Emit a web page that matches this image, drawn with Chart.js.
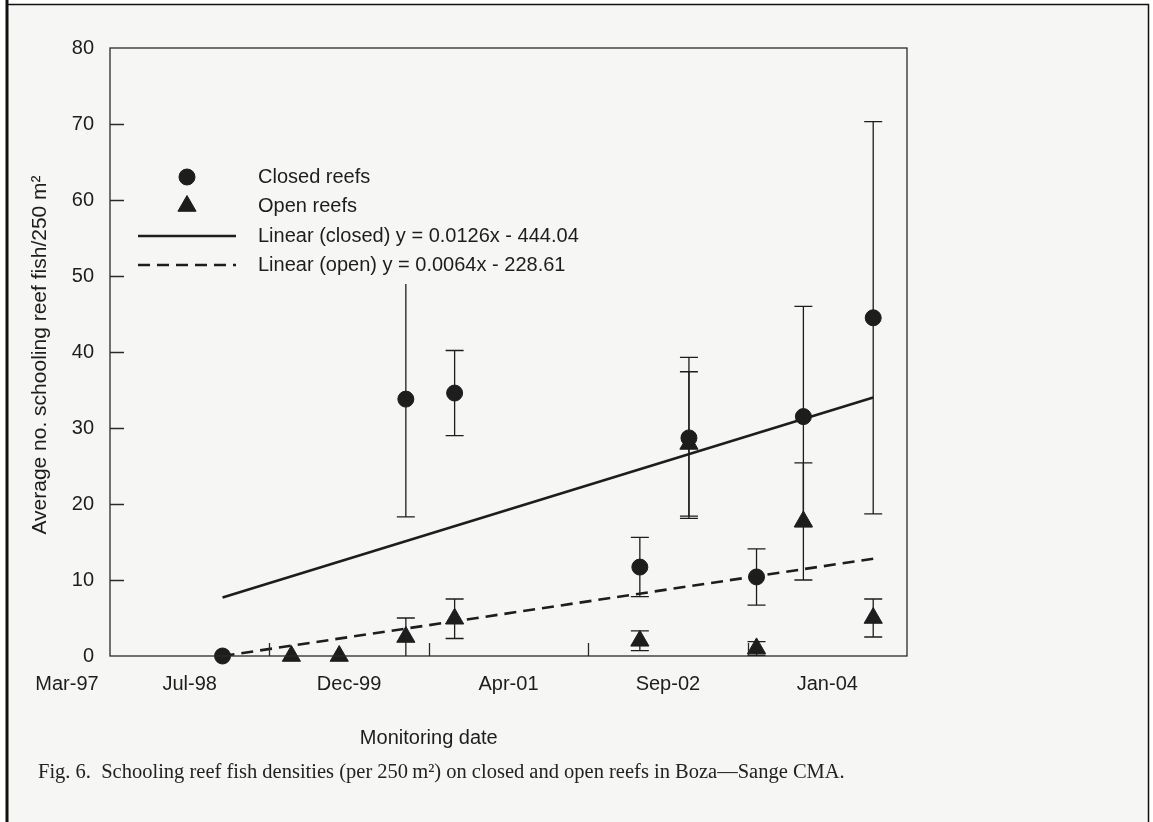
<!DOCTYPE html>
<html>
<head>
<meta charset="utf-8">
<title>Schooling reef fish densities</title>
<script src="https://cdn.jsdelivr.net/npm/chart.js@4.4.1/dist/chart.umd.min.js"></script>
<style>
  html, body { margin: 0; padding: 0; background: #fff; }
  canvas { display: block; }
</style>
</head>
<body>
<canvas id="reefChart" width="1153" height="822"></canvas>
<script>
// survey dates as Excel day serials, means and +/- error per reef type
const closedDates = [35853, 36428, 36581, 37162, 37316, 37528, 37675, 37894];
const closedMeans = [0, 33.8, 34.6, 11.7, 28.7, 10.4, 31.5, 44.5];
const closedErr = [0, 15.5, 5.6, 3.9, 10.6, 3.7, 14.5, 25.8];

const openDates = [36069, 36219, 36428, 36581, 37162, 37316, 37528, 37675, 37894];
const openMeans = [0, 0, 2.5, 4.9, 2.0, 27.9, 1.0, 17.7, 5.0];
const openErr = [0, 0, 2.5, 2.6, 1.3, 9.5, 0.9, 7.7, 2.5];

// fitted trend lines, first and last survey
const trendDates = [35853, 37894];
const closedTrend = [7.7, 34.0];
const openTrend = [0, 12.8];

const xTickValues = [35500, 36000, 36500, 37000, 37500, 38000];
const xTickLabels = ['Mar-97', 'Jul-98', 'Dec-99', 'Apr-01', 'Sep-02', 'Jan-04'];

const ink = '#1d1d1d';
const paper = '#f6f6f5';
const sans = '"Liberation Sans", Arial, sans-serif';
const serif = '"Liberation Serif", "Times New Roman", serif';

function toPoints(xs, ys) {
    return xs.map((x, i) => ({ x: x, y: ys[i] }));
}

const errorBarPlugin = {
    id: 'errorBars',
    beforeDatasetsDraw(chart) {
        const ctx = chart.ctx;
        const xs = chart.scales.x;
        const ys = chart.scales.y;
        ctx.save();
        ctx.strokeStyle = ink;
        ctx.lineWidth = 1.3;
        chart.data.datasets.forEach(ds => {
            if (!ds.errors) return;
            ds.data.forEach((p, i) => {
                const e = ds.errors[i];
                if (!e) return;
                const px = xs.getPixelForValue(p.x);
                const top = ys.getPixelForValue(p.y + e);
                const bot = ys.getPixelForValue(Math.max(0, p.y - e));
                ctx.beginPath();
                ctx.moveTo(px, top);
                ctx.lineTo(px, bot);
                ctx.moveTo(px - 9, top);
                ctx.lineTo(px + 9, top);
                if (p.y - e > 0) {
                    ctx.moveTo(px - 9, bot);
                    ctx.lineTo(px + 9, bot);
                }
                ctx.stroke();
            });
        });
        ctx.restore();
    }
};

const decorPlugin = {
    id: 'decor',
    beforeDraw(chart) {
        const ctx = chart.ctx;
        ctx.save();
        ctx.fillStyle = '#fff';
        ctx.fillRect(0, 0, chart.width, chart.height);
        ctx.fillStyle = paper;
        ctx.fillRect(8, 5, 1140, chart.height - 5);
        ctx.strokeStyle = '#111';
        ctx.lineWidth = 3;
        ctx.beginPath();
        ctx.moveTo(7, 0);
        ctx.lineTo(7, chart.height);
        ctx.stroke();
        ctx.lineWidth = 1.5;
        ctx.beginPath();
        ctx.moveTo(7, 4.5);
        ctx.lineTo(1148.5, 4.5);
        ctx.lineTo(1148.5, chart.height);
        ctx.stroke();
        ctx.restore();
    },
    afterDraw(chart) {
        const ctx = chart.ctx;
        const xs = chart.scales.x;
        const ys = chart.scales.y;
        const area = chart.chartArea;
        ctx.save();

        // plot frame
        ctx.strokeStyle = '#2a2a2a';
        ctx.lineWidth = 1.3;
        ctx.strokeRect(area.left, area.top, area.right - area.left, area.bottom - area.top);

        // inward tick marks
        ctx.beginPath();
        xTickValues.slice(1, -1).forEach(v => {
            const px = Math.round(xs.getPixelForValue(v)) + 0.5;
            ctx.moveTo(px, area.bottom);
            ctx.lineTo(px, area.bottom - 13);
        });
        ys.ticks.forEach(t => {
            if (t.value <= ys.min || t.value >= ys.max) return;
            const py = Math.round(ys.getPixelForValue(t.value)) + 0.5;
            ctx.moveTo(area.left, py);
            ctx.lineTo(area.left + 14, py);
        });
        ctx.stroke();

        // x tick labels sit half an interval left of their ticks
        ctx.fillStyle = ink;
        ctx.font = '20px ' + sans;
        ctx.textAlign = 'center';
        ctx.textBaseline = 'middle';
        xTickValues.forEach((v, i) => {
            let px = xs.getPixelForValue(v - 250);
            px = Math.max(px, area.left - 43);
            ctx.fillText(xTickLabels[i], px, 684);
        });

        // axis titles
        ctx.fillText('Monitoring date', xs.getPixelForValue(36500), 738);
        ctx.save();
        ctx.font = '21px ' + sans;
        ctx.translate(40, (area.top + area.bottom) / 2 + 3);
        ctx.rotate(-Math.PI / 2);
        ctx.fillText('Average no. schooling reef fish/250 m\u00b2', 0, 0);
        ctx.restore();

        // caption
        ctx.font = '20.5px ' + serif;
        ctx.textAlign = 'left';
        ctx.fillStyle = '#222';
        ctx.fillText('Fig. 6.  Schooling reef fish densities (per 250\u2009m\u00b2) on closed and open reefs in Boza\u2014Sange CMA.', 38, 773);
        ctx.restore();
    },
    afterDatasetsDraw(chart) {
        // legend box inside the plot, drawn from the dataset styles
        const ctx = chart.ctx;
        ctx.save();
        ctx.fillStyle = paper;
        ctx.fillRect(128, 158, 470, 126);
        ctx.font = '20px ' + sans;
        ctx.textAlign = 'left';
        ctx.textBaseline = 'middle';
        const rows = [177, 206, 236, 265];
        chart.data.datasets.forEach((ds, i) => {
            const y = rows[i];
            if (ds.showLine) {
                ctx.strokeStyle = ds.borderColor;
                ctx.lineWidth = ds.borderWidth;
                ctx.setLineDash(ds.borderDash || []);
                ctx.beginPath();
                ctx.moveTo(138, y);
                ctx.lineTo(236, y);
                ctx.stroke();
                ctx.setLineDash([]);
            } else {
                ctx.fillStyle = ds.backgroundColor;
                ctx.strokeStyle = ds.borderColor;
                ctx.lineWidth = 1;
                Chart.helpers.drawPoint(ctx, { pointStyle: ds.pointStyle, radius: ds.pointRadius, rotation: 0, borderWidth: 1 }, 187, y);
            }
            ctx.fillStyle = ink;
            ctx.fillText(ds.label, 258, y);
        });
        ctx.restore();
    }
};

new Chart(document.getElementById('reefChart'), {
    type: 'scatter',
    data: {
        datasets: [{
            label: 'Closed reefs',
            data: toPoints(closedDates, closedMeans),
            errors: closedErr,
            pointStyle: 'circle',
            pointRadius: 8,
            backgroundColor: ink,
            borderColor: ink,
            borderWidth: 1,
            clip: false,
            order: 1
        }, {
            label: 'Open reefs',
            data: toPoints(openDates, openMeans),
            errors: openErr,
            pointStyle: 'triangle',
            pointRadius: 10.5,
            backgroundColor: ink,
            borderColor: ink,
            borderWidth: 1,
            clip: false,
            order: 2
        }, {
            label: 'Linear (closed) y = 0.0126x - 444.04',
            type: 'line',
            data: toPoints(trendDates, closedTrend),
            showLine: true,
            pointRadius: 0,
            borderColor: ink,
            borderWidth: 2.6,
            fill: false,
            order: 3
        }, {
            label: 'Linear (open) y = 0.0064x - 228.61',
            type: 'line',
            data: toPoints(trendDates, openTrend),
            showLine: true,
            pointRadius: 0,
            borderColor: ink,
            borderWidth: 2.6,
            borderDash: [12, 7],
            fill: false,
            clip: false,
            order: 4
        }]
    },
    options: {
        responsive: false,
        animation: false,
        devicePixelRatio: 1,
        layout: {
            padding: { left: 10, top: 48, right: 246, bottom: 166 }
        },
        plugins: {
            legend: { display: false },
            tooltip: { enabled: false }
        },
        scales: {
            x: {
                type: 'linear',
                min: 35500,
                max: 38000,
                grid: { display: false },
                border: { display: false },
                ticks: { display: false },
                afterFit: s => { s.height = 0; }
            },
            y: {
                min: 0,
                max: 80,
                grid: { display: false, drawTicks: false },
                border: { display: false },
                ticks: {
                    stepSize: 10,
                    padding: 16,
                    color: ink,
                    font: { family: sans, size: 20 }
                },
                afterFit: s => { s.width = 100; }
            }
        }
    },
    plugins: [errorBarPlugin, decorPlugin]
});
</script>
</body>
</html>
